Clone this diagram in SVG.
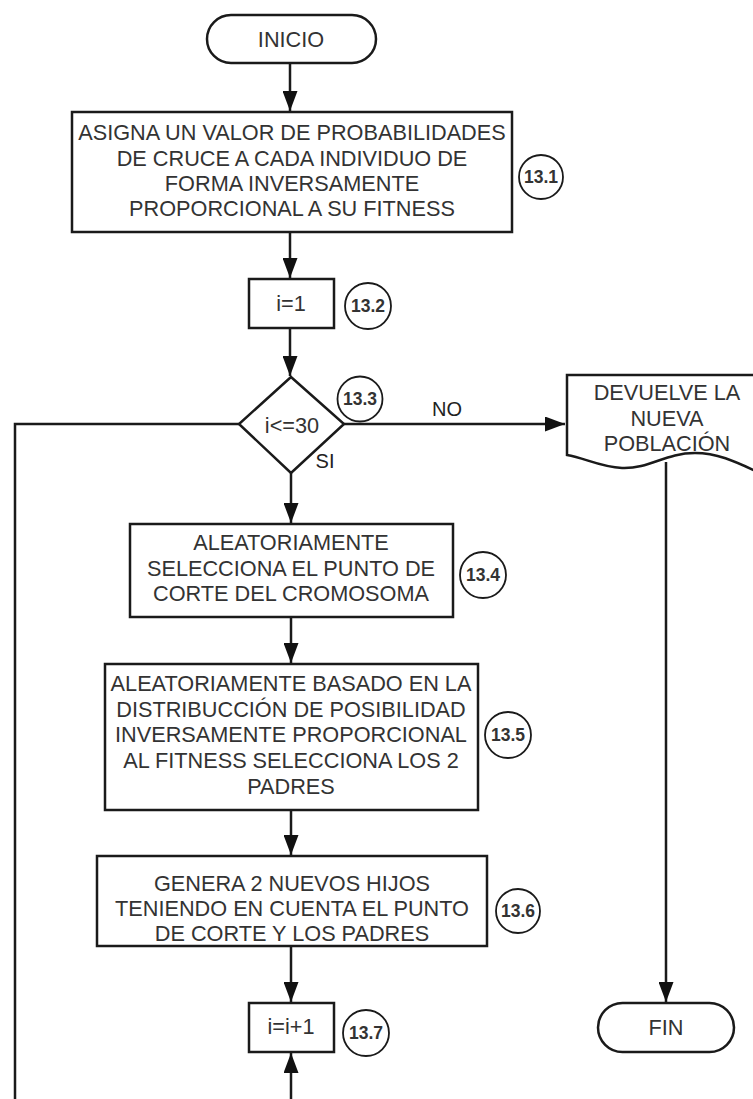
<svg xmlns="http://www.w3.org/2000/svg" width="753" height="1099" viewBox="0 0 753 1099">
<style>
.shape{fill:#fff;stroke:#1a1a1a;stroke-width:2.5}
.line{fill:none;stroke:#1a1a1a;stroke-width:2.5}
.t{font-family:"Liberation Sans",Arial,sans-serif;font-size:21.7px;fill:#333;text-anchor:middle;dominant-baseline:central}
.c{fill:#fff;stroke:#1a1a1a;stroke-width:1.8}
.ct{font-family:"Liberation Sans",Arial,sans-serif;font-size:17.5px;font-weight:bold;fill:#333;text-anchor:middle;dominant-baseline:central}
.lbl{font-family:"Liberation Sans",Arial,sans-serif;font-size:20px;fill:#222;text-anchor:middle;dominant-baseline:central}
</style>
<defs>
<marker id="arr" markerWidth="20" markerHeight="15" refX="20" refY="7.5" orient="auto" markerUnits="userSpaceOnUse" viewBox="0 0 20 15">
<path d="M0,0 L20,7.5 L0,15 Z" fill="#111"/>
</marker>
</defs>
<rect width="753" height="1099" fill="#fff"/>
<g id="connectors">
<line class="line" x1="290" y1="63" x2="290" y2="111" marker-end="url(#arr)"/>
<line class="line" x1="290" y1="232" x2="290" y2="278" marker-end="url(#arr)"/>
<line class="line" x1="290" y1="328" x2="290" y2="376" marker-end="url(#arr)"/>
<line class="line" x1="344" y1="424" x2="565" y2="424" marker-end="url(#arr)"/>
<polyline class="line" points="239,424 15,424 15,1099"/>
<line class="line" x1="291" y1="473" x2="291" y2="523" marker-end="url(#arr)"/>
<line class="line" x1="291" y1="617" x2="291" y2="663" marker-end="url(#arr)"/>
<line class="line" x1="291" y1="810" x2="291" y2="855" marker-end="url(#arr)"/>
<line class="line" x1="291" y1="946" x2="291" y2="1002" marker-end="url(#arr)"/>
<line class="line" x1="291" y1="1099" x2="291" y2="1053" marker-end="url(#arr)"/>
<line class="line" x1="666" y1="462" x2="666" y2="1002" marker-end="url(#arr)"/>
<text class="lbl" x="447" y="409">NO</text>
<text class="lbl" x="325" y="461">SI</text>
</g>
<g id="inicio">
<rect class="shape" x="207" y="15" width="169" height="48" rx="24"/>
<text class="t" x="291" y="39" font-size="20px">INICIO</text>
</g>
<g id="n13_1">
<rect class="shape" x="72" y="112" width="440" height="120"/>
<text class="t" x="292" y="132">ASIGNA UN VALOR DE PROBABILIDADES</text>
<text class="t" x="292" y="158">DE CRUCE A CADA INDIVIDUO DE</text>
<text class="t" x="292" y="183">FORMA INVERSAMENTE</text>
<text class="t" x="292" y="208">PROPORCIONAL A SU FITNESS</text>
<circle class="c" cx="541" cy="177" r="22"/>
<text class="ct" x="541" y="177">13.1</text>
</g>
<g id="n13_2">
<rect class="shape" x="249" y="279" width="85" height="49"/>
<text class="t" x="291" y="303">i=1</text>
<circle class="c" cx="368" cy="306" r="23"/>
<text class="ct" x="368" y="306">13.2</text>
</g>
<g id="n13_3">
<polygon class="shape" points="291,377 344,424 291,473 239,424"/>
<text class="t" x="292" y="425">i&lt;=30</text>
<circle class="c" cx="360" cy="399" r="22.5"/>
<text class="ct" x="360" y="399">13.3</text>
</g>
<g id="devuelve">
<path class="shape" d="M567,375 H762 V474 C740,464 720,453 695,453 C665,453 650,469 622,468 C600,467 585,458 567,455 Z"/>
<text class="t" x="667" y="392">DEVUELVE LA</text>
<text class="t" x="667" y="418">NUEVA</text>
<text class="t" x="667" y="443">POBLACIÓN</text>
</g>
<g id="n13_4">
<rect class="shape" x="130" y="524" width="323" height="93"/>
<text class="t" x="291" y="542">ALEATORIAMENTE</text>
<text class="t" x="291" y="568">SELECCIONA EL PUNTO DE</text>
<text class="t" x="291" y="593">CORTE DEL CROMOSOMA</text>
<circle class="c" cx="483" cy="575" r="23"/>
<text class="ct" x="483" y="575">13.4</text>
</g>
<g id="n13_5">
<rect class="shape" x="105" y="664" width="373" height="146"/>
<text class="t" x="291" y="683">ALEATORIAMENTE BASADO EN LA</text>
<text class="t" x="291" y="709">DISTRIBUCCIÓN DE POSIBILIDAD</text>
<text class="t" x="291" y="734">INVERSAMENTE PROPORCIONAL</text>
<text class="t" x="291" y="760">AL FITNESS SELECCIONA LOS 2</text>
<text class="t" x="291" y="786">PADRES</text>
<circle class="c" cx="508" cy="735" r="23"/>
<text class="ct" x="508" y="735">13.5</text>
</g>
<g id="n13_6">
<rect class="shape" x="97" y="856" width="390" height="90"/>
<text class="t" x="292" y="883">GENERA 2 NUEVOS HIJOS</text>
<text class="t" x="292" y="908">TENIENDO EN CUENTA EL PUNTO</text>
<text class="t" x="292" y="933">DE CORTE Y LOS PADRES</text>
<circle class="c" cx="518" cy="911" r="22"/>
<text class="ct" x="518" y="911">13.6</text>
</g>
<g id="n13_7">
<rect class="shape" x="249" y="1003" width="85" height="49"/>
<text class="t" x="291" y="1026">i=i+1</text>
<circle class="c" cx="366" cy="1033" r="23"/>
<text class="ct" x="366" y="1033">13.7</text>
</g>
<g id="fin">
<rect class="shape" x="598" y="1003" width="136" height="49" rx="24.5"/>
<text class="t" x="666" y="1027" font-size="20px">FIN</text>
</g>
</svg>
